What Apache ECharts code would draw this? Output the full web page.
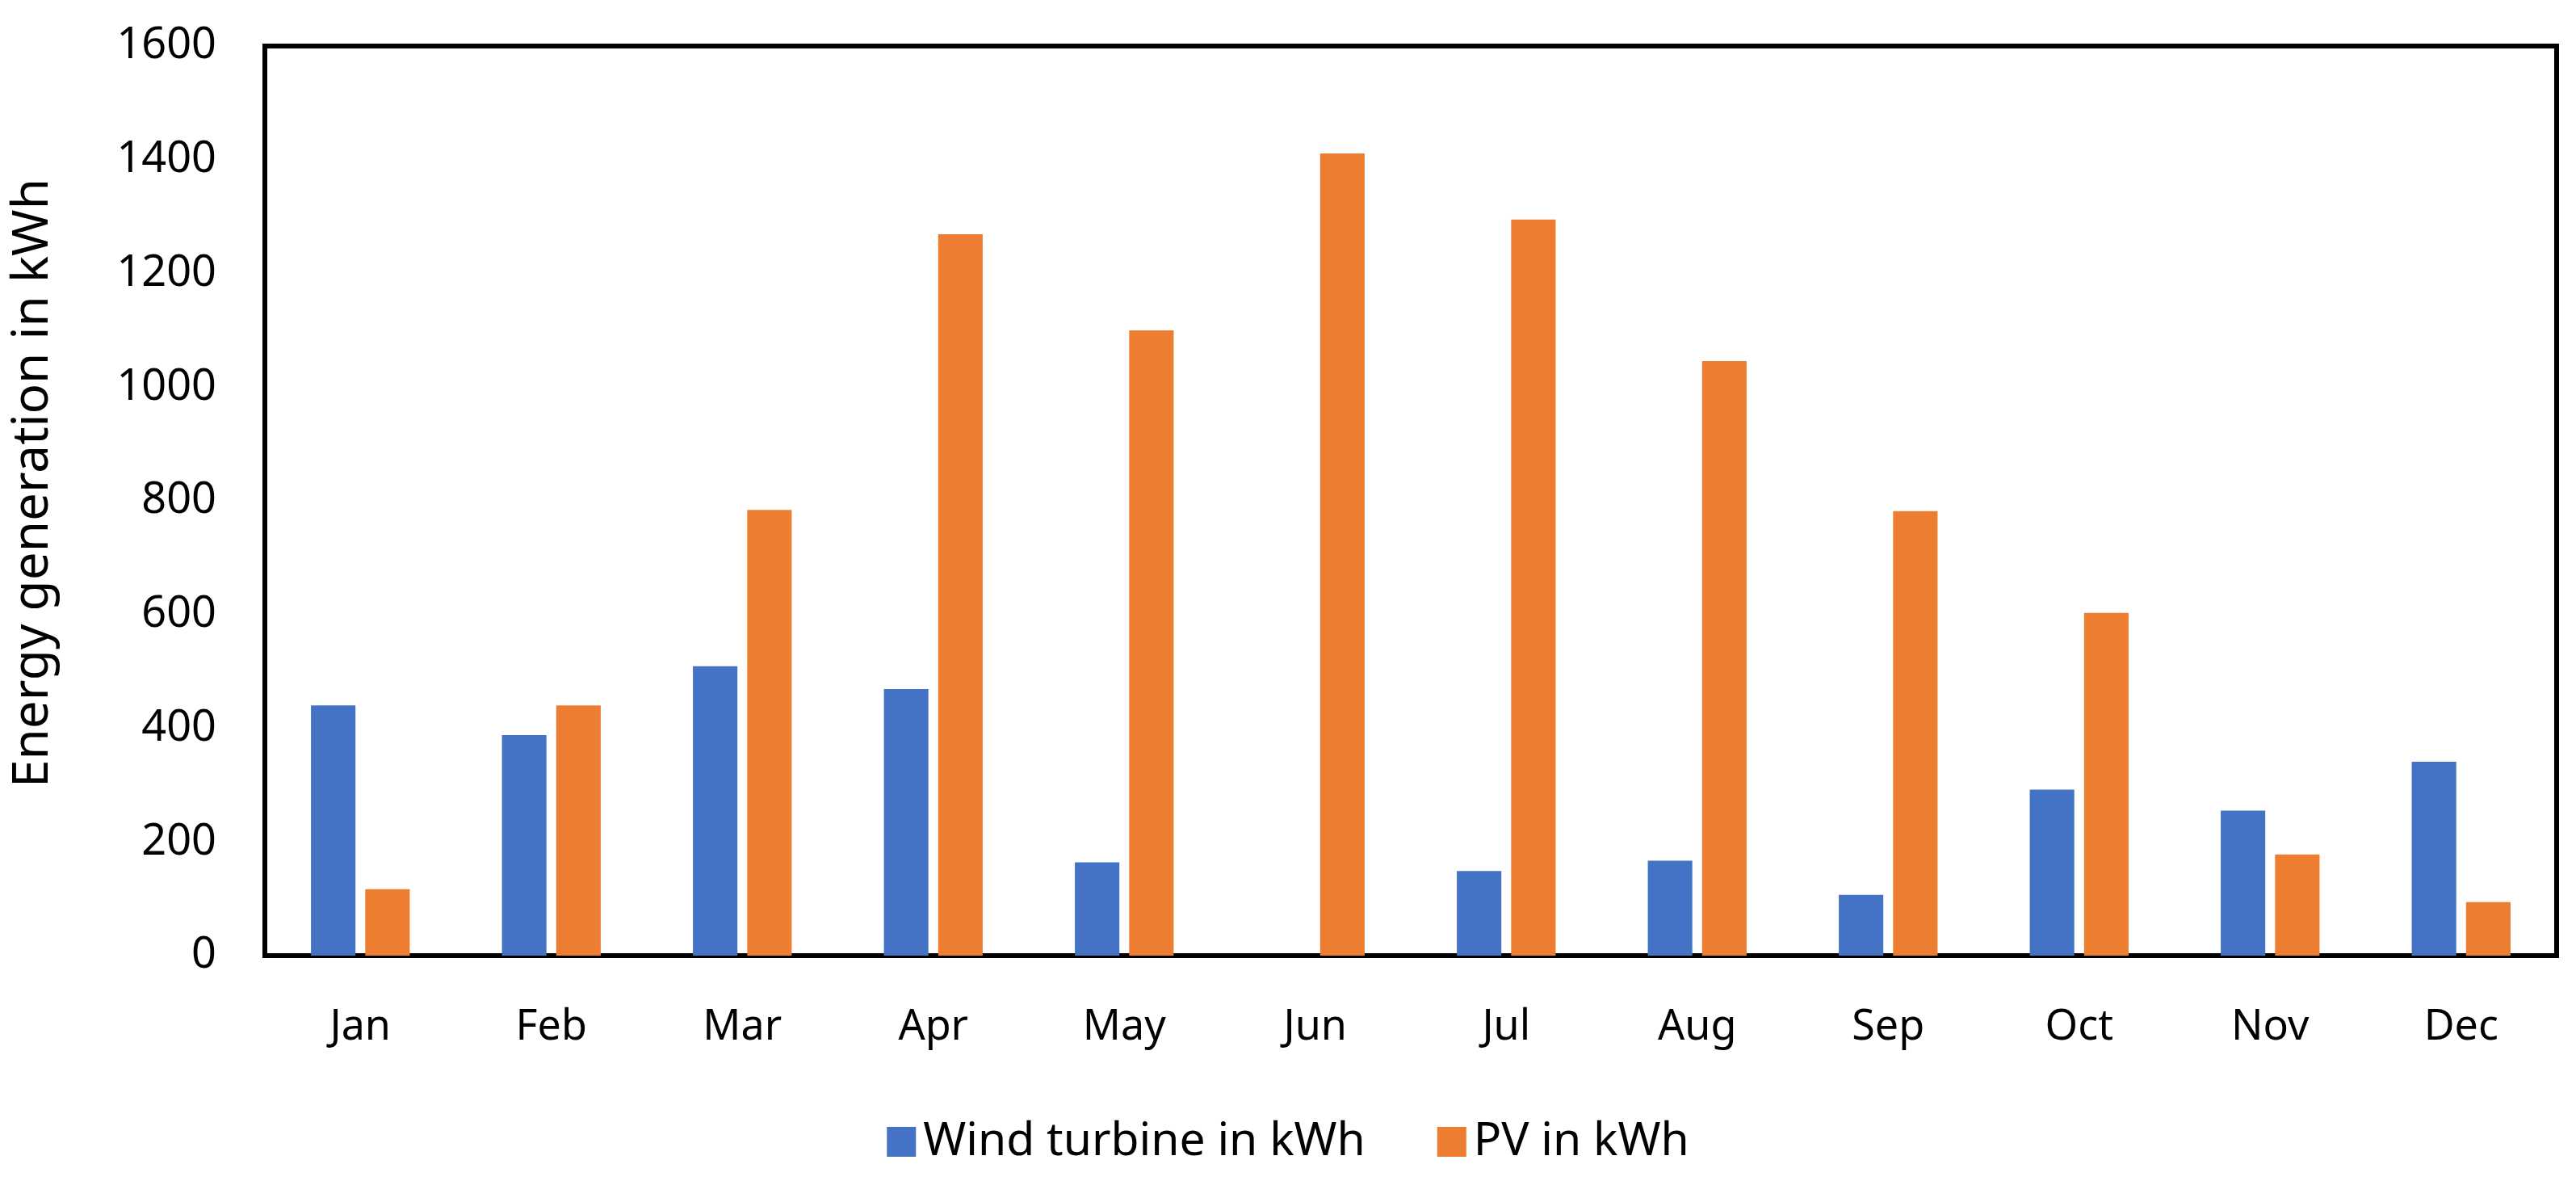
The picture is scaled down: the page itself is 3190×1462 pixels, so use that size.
<!DOCTYPE html>
<html>
<head>
<meta charset="utf-8">
<script src="https://cdn.jsdelivr.net/npm/echarts@6/dist/echarts.min.js"></script>
<style>
html, body { margin: 0; padding: 0; background: #fff; }
#chart { width: 3190px; height: 1462px; }
</style>
</head>
<body>
<div id="chart"></div>
<script>
const months = ['Jan', 'Feb', 'Mar', 'Apr', 'May', 'Jun', 'Jul', 'Aug', 'Sep', 'Oct', 'Nov', 'Dec'];
const windTurbine = [440, 388, 509, 469, 164, 0, 149, 167, 107, 292, 255, 341];
const pv = [117, 440, 784, 1269, 1100, 1411, 1295, 1046, 782, 603, 178, 94];
const yTicks = { min: 0, max: 1600, interval: 200 };
const seriesNames = ['Wind turbine in kWh', 'PV in kWh'];
const yTitle = 'Energy generation in kWh';

const FONT = 'Noto Sans';
const chart = echarts.init(document.getElementById('chart'), null, { renderer: 'canvas' });
chart.setOption({
  animation: false,
  backgroundColor: '#fff',
  color: ['#4472C4', '#ED7D31'],
  grid: {
    left: 328, right: 24, top: 57, bottom: 279,
    show: true, borderColor: '#000', borderWidth: 6, backgroundColor: 'transparent'
  },
  legend: {
    data: seriesNames,
    left: 'center',
    top: 1380,
    icon: 'rect',
    itemWidth: 36,
    itemHeight: 37,
    itemGap: 89,
    textStyle: { fontFamily: FONT, fontSize: 57, color: '#000', padding: [0, 0, 0, 4] }
  },
  xAxis: {
    type: 'category',
    data: months,
    axisLine: { show: true, lineStyle: { color: '#000', width: 6 } },
    axisTick: { show: false },
    axisLabel: { fontFamily: FONT, fontSize: 52, color: '#000', margin: 63 },
    splitLine: { show: false }
  },
  yAxis: {
    type: 'value',
    min: yTicks.min, max: yTicks.max, interval: yTicks.interval,
    name: yTitle,
    nameLocation: 'middle',
    nameGap: 256,
    nameTextStyle: { fontFamily: FONT, fontSize: 62, color: '#000', padding: [0, 0, 0, 44] },
    axisLine: { show: true, lineStyle: { color: '#000', width: 6 } },
    axisTick: { show: false },
    axisLabel: { fontFamily: FONT, fontSize: 54, color: '#000', margin: 60, formatter: v => String(v) },
    splitLine: { show: false }
  },
  series: [
    { name: seriesNames[0], type: 'bar', data: windTurbine, barWidth: '23.3%', barGap: '22%' },
    { name: seriesNames[1], type: 'bar', data: pv, barWidth: '23.3%', barGap: '22%' }
  ]
});
</script>
</body>
</html>
